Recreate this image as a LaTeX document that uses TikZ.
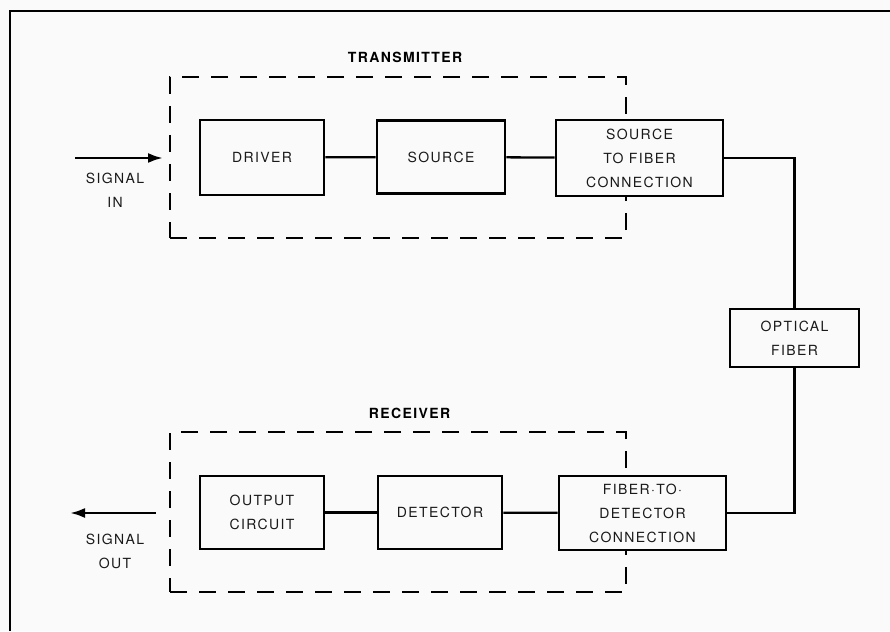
\documentclass[tikz,border=0pt]{standalone}
\usepackage{fontspec}
\setmainfont{TeX Gyre Heros}
\newfontfamily\lblfont[LetterSpace=10]{TeX Gyre Heros}
\usetikzlibrary{arrows.meta}

\begin{document}
\begin{tikzpicture}[x=1pt,y=-1pt,
  paper/.style={fill=gray!4},
  block/.style={draw, paper, line width=2.7pt, inner sep=0pt, align=center,
    font=\fontsize{14}{24}\selectfont\lblfont, text=black!90},
  group/.style={draw, line width=2.6pt, dash pattern=on 17pt off 12pt,
    inner sep=0pt},
  heading/.style={font=\fontsize{14}{16}\selectfont\lblfont\bfseries, text=black},
  caption/.style={font=\fontsize{14}{24}\selectfont\lblfont, text=black!90, align=center},
  link/.style={line width=2.3pt},
  sig/.style={line width=2.6pt, -{Latex[length=15pt,width=10pt]}}]

% page and frame
\fill[paper] (0,0) rectangle (890,631);
\useasboundingbox (0,0) rectangle (890,631);
\draw[line width=2.8pt] (10,631) -- (10,11) -- (890,11);

% dashed enclosures, drawn first so the blocks cover them
\node[heading] (txlabel) at (405,57) {TRANSMITTER};
\node[group, minimum width=456pt, minimum height=161pt] (txgroup) at (398,157.5) {};
\node[heading] (rxlabel) at (409.5,413.5) {RECEIVER};
\node[group, minimum width=456pt, minimum height=160pt] (rxgroup) at (398,512) {};

% transmitter
\node[block, minimum width=124pt, minimum height=75pt] (driver) at (262,157.5) {DRIVER};
\node[block, minimum width=128pt, minimum height=73pt] (source) at (441,157) {SOURCE};
\node[block, minimum width=167pt, minimum height=76pt] (sfc) at (639.5,158) {SOURCE\\TO FIBER\\CONNECTION};

% fiber
\node[block, minimum width=129pt, minimum height=58pt] (fiber) at (794.5,338) {OPTICAL\\FIBER};

% receiver
\node[block, minimum width=124pt, minimum height=73pt] (output) at (262,512.5) {OUTPUT\\CIRCUIT};
\node[block, minimum width=124pt, minimum height=73pt] (detector) at (440,512.5) {DETECTOR};
\node[block, minimum width=167pt, minimum height=74pt] (ftd) at (642.5,513) {FIBER·TO·\\DETECTOR\\CONNECTION};

% signal ends
\coordinate (inStart) at (75,158);
\coordinate (inEnd) at (163,158);
\coordinate (outStart) at (156,513);
\coordinate (outEnd) at (70,513);
\node[caption] (inlabel) at (115,190) {SIGNAL\\IN};
\node[caption] (outlabel) at (115,551) {SIGNAL\\OUT};

% connectors
\draw[sig] (inStart) -- (inEnd);
\draw[link] (driver) -- (source);
\draw[link] (source) -- (sfc);
\draw[link] (sfc.east) -| (fiber.north);
\draw[link] (fiber.south) |- (ftd.east);
\draw[link] (ftd) -- (detector);
\draw[link] (detector) -- (output);
\draw[sig] (outStart) -- (outEnd);
\end{tikzpicture}
\end{document}
